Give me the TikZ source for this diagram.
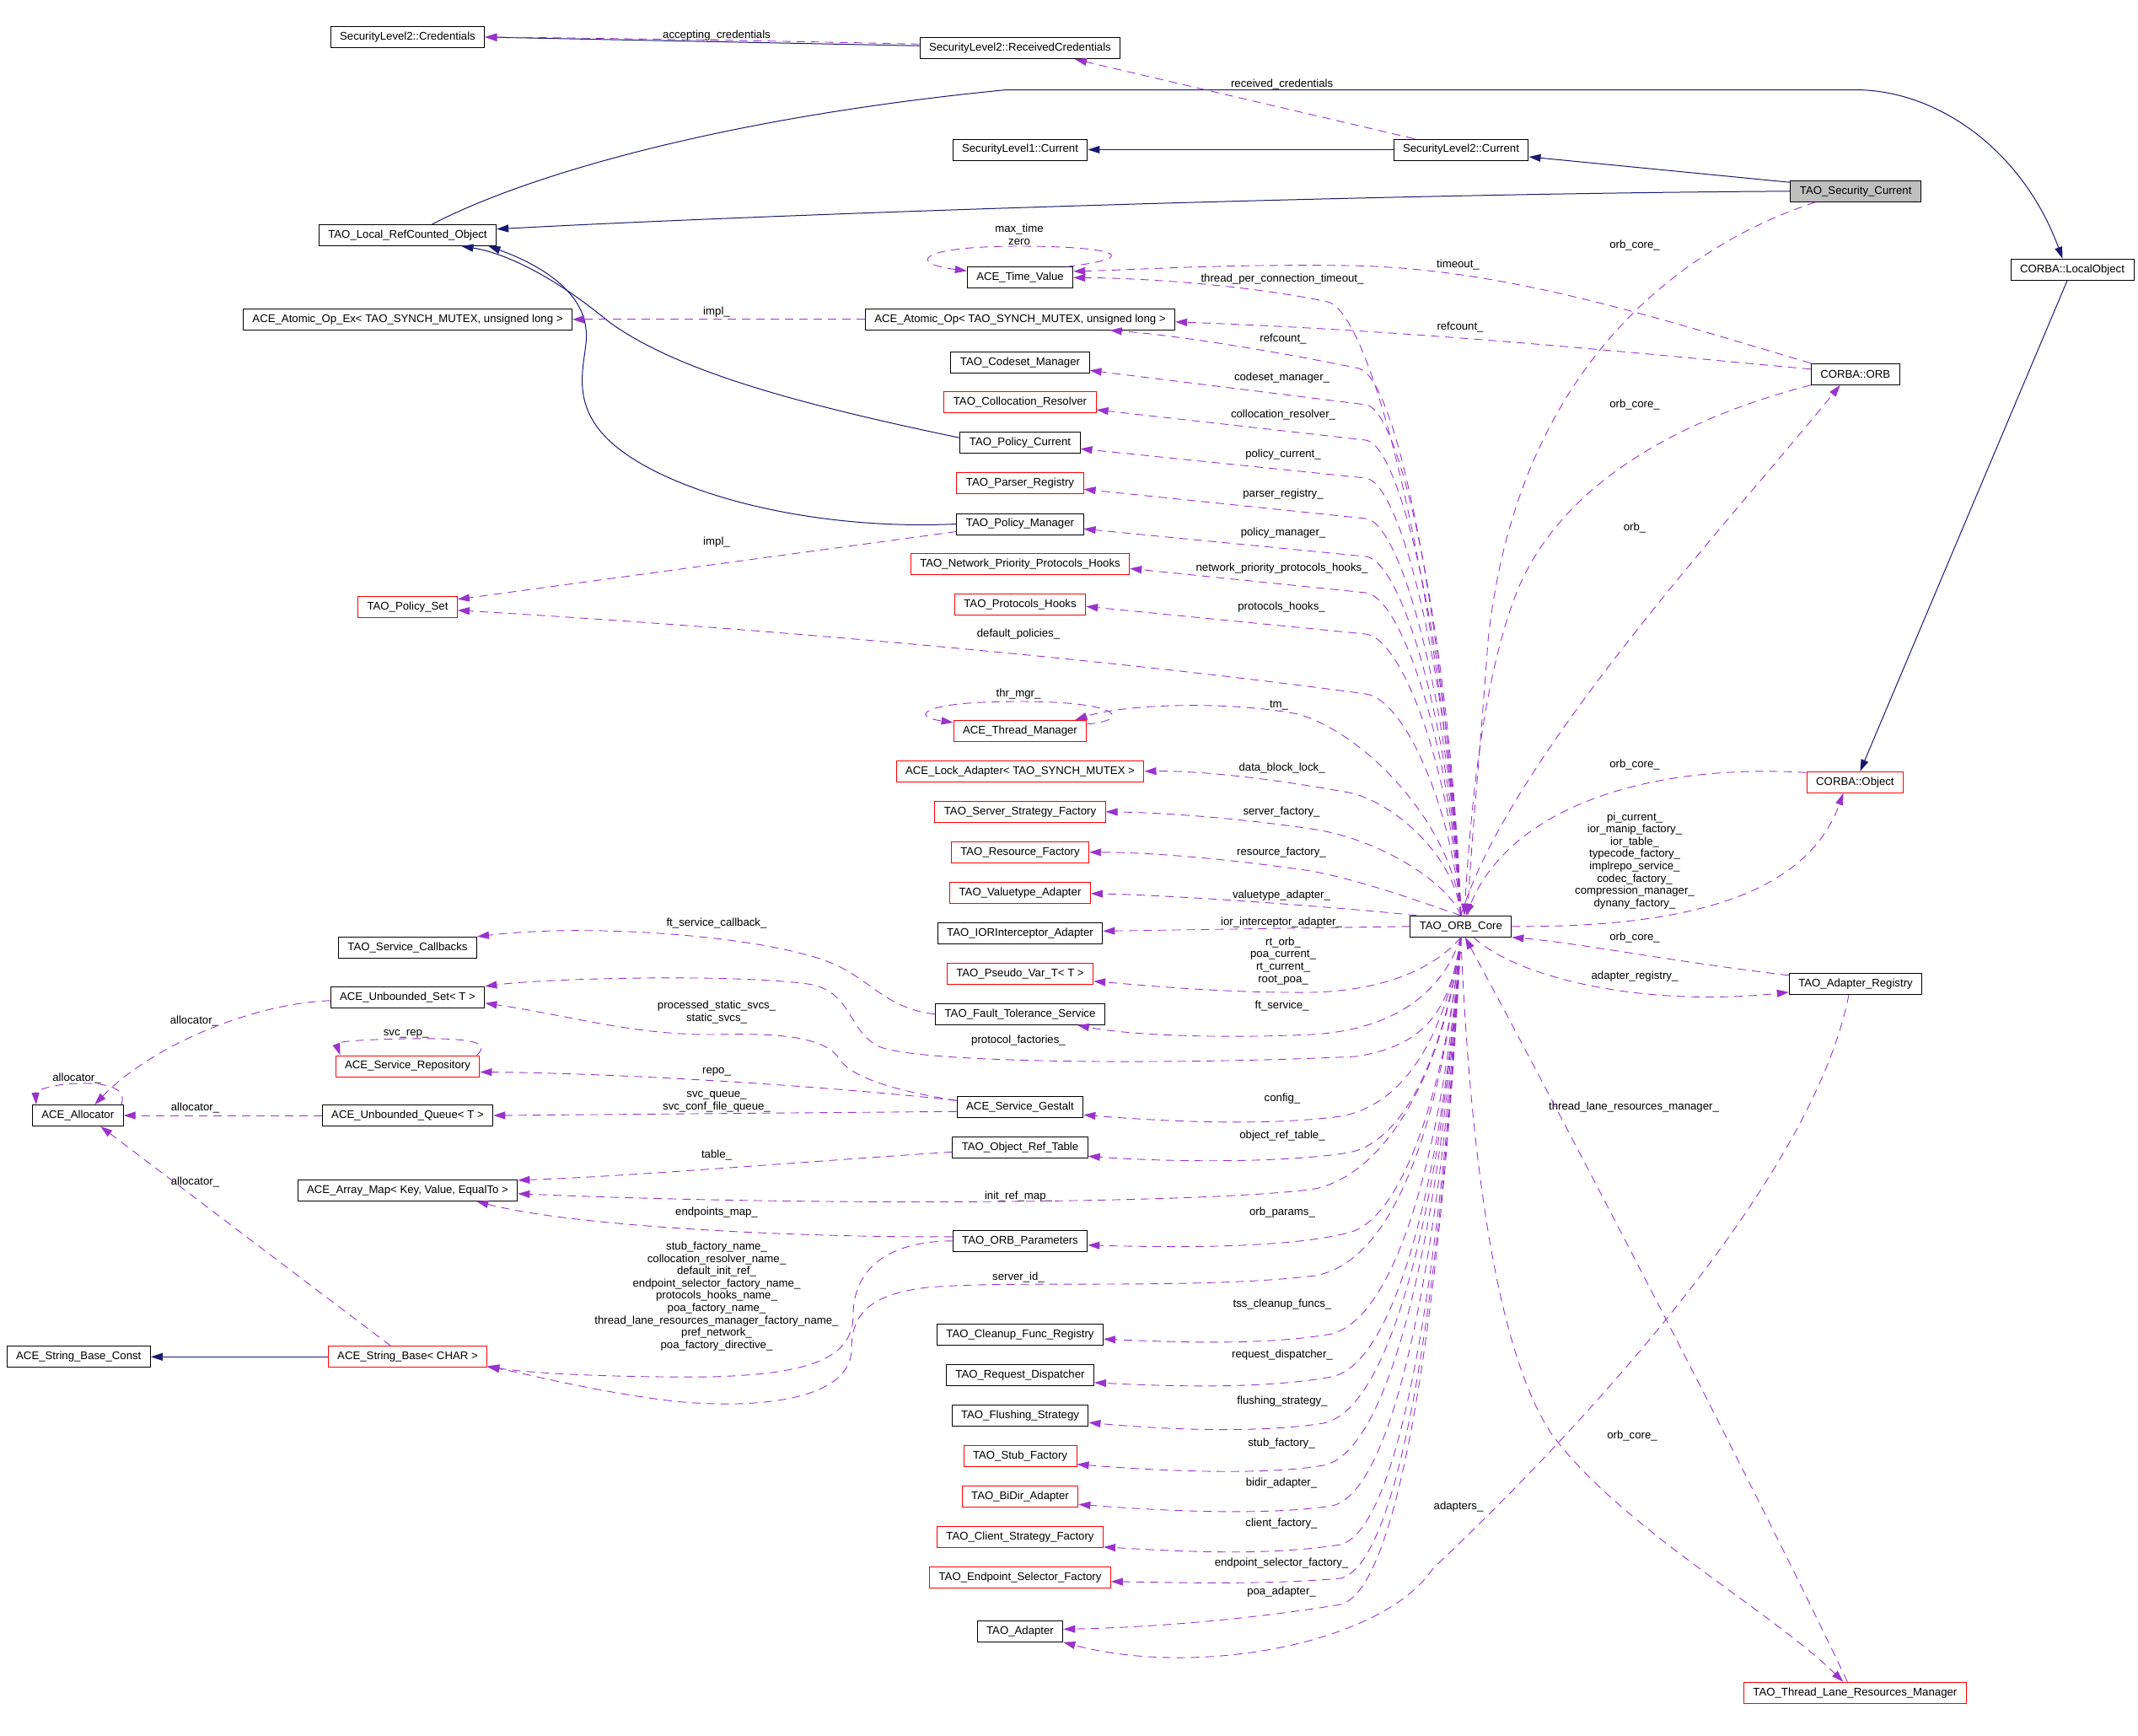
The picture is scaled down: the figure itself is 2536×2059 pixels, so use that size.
\documentclass[tikz,border=0pt]{standalone}
\usepackage{fontspec}
\setmainfont{Liberation Sans}
\usetikzlibrary{arrows.meta, calc}
\definecolor{edgeblue}{RGB}{25,25,112}
\definecolor{edgepurple}{RGB}{154,50,205}
\definecolor{focusgray}{RGB}{191,191,191}
\newcommand{\dxfont}{\fontsize{13.2}{14.6}\selectfont}

\begin{document}
\begin{tikzpicture}[x=1pt, y=-1pt,
    box/.style={rectangle, draw=black, line width=1pt, fill=white, minimum height=25pt, inner xsep=11pt, inner ysep=2pt, font=\dxfont},
    redbox/.style={box, draw=red},
    lab/.style={inner sep=0pt, font=\dxfont, align=center},
    inherit/.style={draw=edgeblue, line width=1pt, -{Triangle[length=14pt, width=9pt]}},
    uses/.style={draw=edgepurple, line width=0.9pt, dash pattern=on 10pt off 7pt, -{Triangle[length=14pt, width=9pt]}}]
    \fill[white] (0,0) rectangle (2536,2059);
    \useasboundingbox (0,0) rectangle (2536,2059);

    % classes
    \node[box] (cred) at (483.5,44) {SecurityLevel2::Credentials};
    \node[box] (recvcred) at (1210,57.3) {SecurityLevel2::ReceivedCredentials};
    \node[box] (sl1cur) at (1210,177.5) {SecurityLevel1::Current};
    \node[box] (sl2cur) at (1733,177.5) {SecurityLevel2::Current};
    \node[box, fill=focusgray] (seccur) at (2201.2,226.8) {TAO\_Security\_Current};
    \node[box] (localrc) at (483.5,279) {TAO\_Local\_RefCounted\_Object};
    \node[box] (localobj) at (2458,319.8) {CORBA::LocalObject};
    \node[box] (timeval) at (1210,329.3) {ACE\_Time\_Value};
    \node[box] (atomicex) at (483.5,378.8) {ACE\_Atomic\_Op\_Ex< TAO\_SYNCH\_MUTEX, unsigned long >};
    \node[box] (atomic) at (1210,378.8) {ACE\_Atomic\_Op< TAO\_SYNCH\_MUTEX, unsigned long >};
    \node[box] (codeset) at (1210,429.8) {TAO\_Codeset\_Manager};
    \node[box] (orb) at (2200.7,443.8) {CORBA::ORB};
    \node[redbox] (colloc) at (1210,477.3) {TAO\_Collocation\_Resolver};
    \node[box] (polcur) at (1210,525.3) {TAO\_Policy\_Current};
    \node[redbox] (parser) at (1210,573.3) {TAO\_Parser\_Registry};
    \node[box] (polmgr) at (1210,621.5) {TAO\_Policy\_Manager};
    \node[redbox] (nethooks) at (1210,669.3) {TAO\_Network\_Priority\_Protocols\_Hooks};
    \node[redbox] (prothooks) at (1210,717.3) {TAO\_Protocols\_Hooks};
    \node[redbox] (polset) at (483.5,719.8) {TAO\_Policy\_Set};
    \node[redbox] (thrmgr) at (1210,866.8) {ACE\_Thread\_Manager};
    \node[redbox] (lockad) at (1210,914.8) {ACE\_Lock\_Adapter< TAO\_SYNCH\_MUTEX >};
    \node[redbox] (corbaobj) at (2200.4,927.8) {CORBA::Object};
    \node[redbox] (serverfac) at (1210,962.8) {TAO\_Server\_Strategy\_Factory};
    \node[redbox] (resfac) at (1210,1010.8) {TAO\_Resource\_Factory};
    \node[redbox] (valadapt) at (1210,1058.8) {TAO\_Valuetype\_Adapter};
    \node[box] (core) at (1732.8,1098.8) {TAO\_ORB\_Core};
    \node[box] (iorint) at (1210,1106.8) {TAO\_IORInterceptor\_Adapter};
    \node[box] (svccb) at (483.5,1123.8) {TAO\_Service\_Callbacks};
    \node[redbox] (pseudo) at (1210,1154.8) {TAO\_Pseudo\_Var\_T< T >};
    \node[box] (adreg) at (2201,1166.8) {TAO\_Adapter\_Registry};
    \node[box] (uset) at (483.5,1182.8) {ACE\_Unbounded\_Set< T >};
    \node[box] (ftserv) at (1210,1202.8) {TAO\_Fault\_Tolerance\_Service};
    \node[redbox] (svcrepo) at (483.5,1264.5) {ACE\_Service\_Repository};
    \node[box] (gestalt) at (1210,1313.3) {ACE\_Service\_Gestalt};
    \node[box] (alloc) at (92.3,1323) {ACE\_Allocator};
    \node[box] (uqueue) at (483.5,1323) {ACE\_Unbounded\_Queue< T >};
    \node[box] (objref) at (1210,1361.3) {TAO\_Object\_Ref\_Table};
    \node[box] (arraymap) at (483.5,1411.8) {ACE\_Array\_Map< Key, Value, EqualTo >};
    \node[box] (orbparams) at (1210,1471.8) {TAO\_ORB\_Parameters};
    \node[box] (cleanup) at (1210,1582.8) {TAO\_Cleanup\_Func\_Registry};
    \node[box] (strconst) at (93.3,1609.3) {ACE\_String\_Base\_Const};
    \node[redbox] (strbase) at (483.5,1609.3) {ACE\_String\_Base< CHAR >};
    \node[box] (reqdisp) at (1210,1630.8) {TAO\_Request\_Dispatcher};
    \node[box] (flush) at (1210,1678.8) {TAO\_Flushing\_Strategy};
    \node[redbox] (stubfac) at (1210,1726.7) {TAO\_Stub\_Factory};
    \node[redbox] (bidir) at (1210,1774.7) {TAO\_BiDir\_Adapter};
    \node[redbox] (clientfac) at (1210,1822.8) {TAO\_Client\_Strategy\_Factory};
    \node[redbox] (epselect) at (1210,1870.8) {TAO\_Endpoint\_Selector\_Factory};
    \node[box] (adapter) at (1210,1934.8) {TAO\_Adapter};
    \node[redbox] (tlrm) at (2200.4,2007.7) {TAO\_Thread\_Lane\_Resources\_Manager};

    % member labels
    \node[lab] (lacc) at (850,41.7) {accepting\_credentials};
    \node[lab] (lrecv) at (1520.6,99.7) {received\_credentials};
    \node[lab] (ltime) at (1209,278) {max\_time\\zero};
    \node[lab] (ltimeout) at (1729.5,314.3) {timeout\_};
    \node[lab] (lsecore) at (1939,291) {orb\_core\_};
    \node[lab] (ltpct) at (1521,331) {thread\_per\_connection\_timeout\_};
    \node[lab] (limpl) at (850,370) {impl\_};
    \node[lab] (lrefcore) at (1522,401.7) {refcount\_};
    \node[lab] (lreforb) at (1732,387.7) {refcount\_};
    \node[lab] (lcodeset) at (1520.5,447.7) {codeset\_manager\_};
    \node[lab] (lorbcore) at (1939,480) {orb\_core\_};
    \node[lab] (lcolloc) at (1522,491.7) {collocation\_resolver\_};
    \node[lab] (lpolcur) at (1522,539) {policy\_current\_};
    \node[lab] (lparser) at (1522,585.7) {parser\_registry\_};
    \node[lab] (lorb) at (1939,625.7) {orb\_};
    \node[lab] (lpolmgr) at (1522,631.7) {policy\_manager\_};
    \node[lab] (lpolimpl) at (850,643.3) {impl\_};
    \node[lab] (lnethooks) at (1520.6,674) {network\_priority\_protocols\_hooks\_};
    \node[lab] (lprothooks) at (1520,720) {protocols\_hooks\_};
    \node[lab] (ldefpol) at (1208,751.7) {default\_policies\_};
    \node[lab] (lthrmgr) at (1208,823.3) {thr\_mgr\_};
    \node[lab] (ltm) at (1517,837) {tm\_};
    \node[lab] (lobjcore) at (1939,906.7) {orb\_core\_};
    \node[lab] (llock) at (1520.6,910.7) {data\_block\_lock\_};
    \node[lab] (lserver) at (1520,963) {server\_factory\_};
    \node[lab] (lobj) at (1939,1020.8) {pi\_current\_\\ior\_manip\_factory\_\\ior\_table\_\\typecode\_factory\_\\implrepo\_service\_\\codec\_factory\_\\compression\_manager\_\\dynany\_factory\_};
    \node[lab] (lresfac) at (1520,1010.7) {resource\_factory\_};
    \node[lab] (lvaladapt) at (1520,1061.7) {valuetype\_adapter\_};
    \node[lab] (lior) at (1520,1094) {ior\_interceptor\_adapter\_};
    \node[lab] (lftcb) at (850,1094.7) {ft\_service\_callback\_};
    \node[lab] (ladcore) at (1939,1111.7) {orb\_core\_};
    \node[lab] (lpseudo) at (1522,1139.7) {rt\_orb\_\\poa\_current\_\\rt\_current\_\\root\_poa\_};
    \node[lab] (ladreg) at (1939,1157.7) {adapter\_registry\_};
    \node[lab] (lft) at (1520.6,1193.3) {ft\_service\_};
    \node[lab] (lstatic) at (850,1200.7) {processed\_static\_svcs\_\\static\_svcs\_};
    \node[lab] (lallocset) at (230.4,1211) {allocator\_};
    \node[lab] (lsvcrep) at (481.6,1226) {svc\_rep\_};
    \node[lab] (lprotfac) at (1208,1233.7) {protocol\_factories\_};
    \node[lab] (lrepo) at (850,1271.7) {repo\_};
    \node[lab] (lallocself) at (91,1279) {allocator\_};
    \node[lab] (lqueue) at (850,1306.7) {svc\_queue\_\\svc\_conf\_file\_queue\_};
    \node[lab] (lconfig) at (1521,1302.7) {config\_};
    \node[lab] (ltlrm) at (1938,1313.3) {thread\_lane\_resources\_manager\_};
    \node[lab] (lallocq) at (231.5,1314.3) {allocator\_};
    \node[lab] (lobjref) at (1521,1346.7) {object\_ref\_table\_};
    \node[lab] (ltable) at (850,1370) {table\_};
    \node[lab] (lallocstr) at (231.5,1401.7) {allocator\_};
    \node[lab] (linitref) at (1208,1419.3) {init\_ref\_map\_};
    \node[lab] (lendpoints) at (850,1438.3) {endpoints\_map\_};
    \node[lab] (lorbparams) at (1521,1438.3) {orb\_params\_};
    \node[lab] (lnames) at (850,1537.5) {stub\_factory\_name\_\\collocation\_resolver\_name\_\\default\_init\_ref\_\\endpoint\_selector\_factory\_name\_\\protocols\_hooks\_name\_\\poa\_factory\_name\_\\thread\_lane\_resources\_manager\_factory\_name\_\\pref\_network\_\\poa\_factory\_directive\_};
    \node[lab] (lserverid) at (1208,1515) {server\_id\_};
    \node[lab] (ltss) at (1521,1547.3) {tss\_cleanup\_funcs\_};
    \node[lab] (lreqdisp) at (1521,1606.7) {request\_dispatcher\_};
    \node[lab] (lflush) at (1521,1661.7) {flushing\_strategy\_};
    \node[lab] (ltlrmcore) at (1936,1702.7) {orb\_core\_};
    \node[lab] (lstub) at (1520,1711.7) {stub\_factory\_};
    \node[lab] (lbidir) at (1520,1759.3) {bidir\_adapter\_};
    \node[lab] (ladapters) at (1730,1787.3) {adapters\_};
    \node[lab] (lclient) at (1520,1807) {client\_factory\_};
    \node[lab] (lepsel) at (1520,1854) {endpoint\_selector\_factory\_};
    \node[lab] (lpoa) at (1520,1888.3) {poa\_adapter\_};

    % inheritance
    \draw[inherit] ($(recvcred.west)+(0,-3)$) -- (cred.east);
    \draw[inherit] (sl2cur.west) -- (sl1cur.east);
    \draw[inherit] ($(seccur.north west)+(0,2.5)$) -- ($(sl2cur.east)+(0,8.5)$);
    \draw[inherit] (seccur.west) .. controls (1600,230) and (900,255) .. ($(localrc.east)+(0,-7.3)$);
    \draw[inherit] ($(localrc.north)+(29,0)$) .. controls (620,210) and (850,140) .. (1194,106.5) -- (2200,106.5) .. controls (2300,106.5) and (2400,180) .. ($(localobj.north)+(-11.5,0)$);
    \draw[inherit] ($(localobj.south)+(-6,0)$) -- ($(corbaobj.north)+(6,0)$);
    \draw[inherit] ($(polcur.west)+(0,-6)$) .. controls (950,480) and (800,440) .. (720,380) .. controls (660,330) and (600,300) .. ($(localrc.south)+(64,0)$);
    \draw[inherit] (polmgr.west) .. controls (950,630) and (780,580) .. (720,520) .. controls (670,470) and (700,420) .. (695,390) .. controls (690,340) and (630,310) .. ($(localrc.south)+(96,0)$);
    \draw[inherit] (strbase.west) -- (strconst.east);

    % members, upper part
    \draw[uses] ($(recvcred.west)+(0,-5)$) .. controls (900,48) and (700,45) .. (cred.east);
    \draw[uses] ($(sl2cur.north west)+(25,0)$) -- ($(recvcred.south)+(65,0)$);
    \draw[uses] ($(timeval.north east)+(-8,0)$) .. controls (1360,305) and (1320,292) .. (1209,292) .. controls (1090,292) and (1075,312) .. ($(timeval.west)+(0,-8)$);
    \draw[uses] (orb.north west) .. controls (1950,372) and (1780,318) .. (1600,315) .. controls (1450,313) and (1350,320) .. ($(timeval.east)+(0,-7.5)$);
    \draw[uses] ($(orb.west)+(0,-6)$) .. controls (1950,420) and (1700,393) .. ($(atomic.east)+(0,3)$);
    \draw[uses] (atomic.west) -- (atomicex.east);
    \draw[uses] ($(polmgr.west)+(0,9)$) -- ($(polset.east)+(0,-9)$);
    \draw[uses] (core.north) .. controls (1712,720) and (1630,372) .. (1575,358) .. controls (1500,342) and (1380,330) .. (timeval.east);
    \draw[uses] (core.north) .. controls (1716,760) and (1660,450) .. (1612,437) .. controls (1520,418) and (1400,398) .. ($(atomic.south)+(106.6,0)$);
    \draw[uses] (core.north) .. controls (1722,783) and (1665,486) .. (1620,480) -- ($(codeset.east)+(0,9.5)$);
    \draw[uses] (core.north) .. controls (1722,804) and (1665,528) .. (1620,522) -- ($(colloc.east)+(0,8.7)$);
    \draw[uses] (core.north) .. controls (1722,827) and (1665,573) .. (1620,567) -- ($(polcur.east)+(0,7)$);
    \draw[uses] (core.north) .. controls (1722,851) and (1665,621) .. (1620,615) -- ($(parser.east)+(0,7)$);
    \draw[uses] (core.north) .. controls (1722,873) and (1665,666) .. (1620,660) -- ($(polmgr.east)+(0,5.8)$);
    \draw[uses] (core.north) .. controls (1722,895) and (1665,709) .. (1620,703) -- ($(nethooks.east)+(0,5)$);
    \draw[uses] (core.north) .. controls (1722,919) and (1665,758) .. (1620,752) -- ($(prothooks.east)+(0,2)$);
    \draw[uses] (core.north) .. controls (1722,955) and (1665,829) .. (1620,823) .. controls (1300,780) and (900,745) .. ($(polset.east)+(0,4)$);
    \draw[uses] ($(thrmgr.east)+(0,-8)$) .. controls (1340,855) and (1335,832) .. (1209,832) .. controls (1090,832) and (1080,850) .. ($(thrmgr.west)+(0,-10)$);
    \draw[uses] (core.north) .. controls (1725,980) and (1620,870) .. (1540,847) .. controls (1450,830) and (1330,836) .. ($(thrmgr.north east)+(-14,0)$);
    \draw[uses] (core.north) .. controls (1726,1013) and (1650,950) .. (1600,940) .. controls (1500,922) and (1420,914) .. (lockad.east);
    \draw[uses] (core.north) .. controls (1720,1050) and (1640,995) .. (1555,983) .. controls (1480,972) and (1390,964) .. (serverfac.east);
    \draw[uses] (core.north) .. controls (1700,1075) and (1620,1045) .. (1555,1033) .. controls (1480,1022) and (1380,1011) .. (resfac.east);
    \draw[uses] ($(core.north west)+(8,0)$) .. controls (1600,1077) and (1400,1062) .. ($(valadapt.east)+(0,1)$);
    \draw[uses] (core.west) -- ($(iorint.east)+(0,-2.5)$);

    % members, right part
    \draw[uses] ($(seccur.south west)+(30,0)$) .. controls (2000,290) and (1800,430) .. (1765,760) .. controls (1755,900) and (1745,1000) .. ($(core.north)+(8,0)$);
    \draw[uses] (orb.south west) .. controls (1980,500) and (1850,580) .. (1800,700) .. controls (1760,800) and (1745,950) .. ($(core.north)+(4,0)$);
    \draw[uses] (core.north) .. controls (1790,900) and (2050,620) .. ($(orb.south)+(-18,0)$);
    \draw[uses] ($(corbaobj.north west)+(0,1.5)$) .. controls (1950,905) and (1790,960) .. ($(core.north)+(6,0)$);
    \draw[uses] (core.east) .. controls (1980,1100) and (2140,1070) .. ($(corbaobj.south)+(-14,0)$);
    \draw[uses] ($(adreg.north west)+(0,3)$) .. controls (1980,1140) and (1870,1118) .. (core.south east);
    \draw[uses] ($(core.south)+(15,0)$) .. controls (1800,1160) and (1950,1195) .. ($(adreg.south west)+(0,-3)$);
    \draw[uses] (core.south) .. controls (1745,1400) and (1780,1610) .. (1840,1700) .. controls (1920,1810) and (2100,1910) .. ($(tlrm.north)+(-14,0)$);
    \draw[uses] ($(tlrm.north)+(-9,0)$) .. controls (2080,1760) and (1840,1300) .. ($(core.south)+(5,0)$);
    \draw[uses] ($(adreg.south)+(-8,0)$) .. controls (2150,1400) and (1870,1700) .. (1700,1860) .. controls (1640,1950) and (1420,1990) .. (adapter.south east);

    % members, lower part
    \draw[uses] (core.south) .. controls (1700,1150) and (1640,1175) .. (1555,1177) .. controls (1450,1178) and (1350,1168) .. ($(pseudo.east)+(0,9)$);
    \draw[uses] (core.south) .. controls (1710,1180) and (1650,1222) .. (1555,1227) .. controls (1450,1232) and (1340,1228) .. ($(ftserv.south east)+(-33,0)$);
    \draw[uses] (ftserv.west) .. controls (1040,1195) and (1030,1150) .. (958,1133) .. controls (880,1110) and (700,1095) .. (svccb.north east);
    \draw[uses] (core.south) .. controls (1720,1200) and (1690,1240) .. (1609,1253) .. controls (1400,1263) and (1080,1262) .. (1040,1240) .. controls (1005,1220) and (1010,1175) .. (958,1167) .. controls (870,1155) and (650,1160) .. (uset.north east);
    \draw[uses] ($(gestalt.west)+(0,-8)$) .. controls (1070,1295) and (1010,1280) .. (995,1255) .. controls (975,1225) and (900,1226) .. (850,1227) .. controls (750,1228) and (680,1205) .. ($(uset.east)+(0,7)$);
    \draw[uses] ($(gestalt.west)+(0,-8)$) .. controls (1000,1290) and (750,1273) .. ($(svcrepo.east)+(0,7)$);
    \draw[uses] ($(gestalt.west)+(0,5)$) -- (uqueue.east);
    \draw[uses] ($(svcrepo.north east)+(-4,0)$) .. controls (585,1234) and (550,1231) .. (482,1232) .. controls (420,1233) and (398,1236) .. ($(svcrepo.north west)+(6,0)$);
    \draw[uses] ($(uset.west)+(0,4)$) .. controls (300,1190) and (180,1240) .. ($(alloc.north)+(20,0)$);
    \draw[uses] ($(alloc.north east)+(-3,0)$) .. controls (152,1290) and (125,1284) .. (92,1285) .. controls (60,1286) and (42,1294) .. ($(alloc.north west)+(5,0)$);
    \draw[uses] (uqueue.west) -- (alloc.east);
    \draw[uses] ($(strbase.north)+(-20,0)$) -- ($(alloc.south)+(27,0)$);
    \draw[uses] (core.south) .. controls (1716,1220) and (1670,1310) .. (1590,1324) .. controls (1500,1336) and (1380,1330) .. ($(gestalt.east)+(0,9)$);
    \draw[uses] (core.south) .. controls (1715,1239) and (1670,1353) .. (1600,1367) .. controls (1520,1380) and (1380,1378) .. ($(objref.east)+(0,10)$);
    \draw[uses] ($(objref.west)+(0,5)$) .. controls (950,1378) and (750,1395) .. ($(arraymap.east)+(0,-12)$);
    \draw[uses] (core.south) .. controls (1715,1260) and (1650,1390) .. (1560,1410) .. controls (1450,1426) and (1000,1432) .. ($(arraymap.east)+(0,4)$);
    \draw[uses] ($(orbparams.west)+(0,-5)$) .. controls (950,1468) and (680,1455) .. ($(arraymap.south)+(81.7,0)$);
    \draw[uses] (core.south) .. controls (1715,1287) and (1665,1445) .. (1600,1462) .. controls (1530,1480) and (1400,1480) .. ($(orbparams.east)+(0,5)$);
    \draw[uses] (orbparams.west) .. controls (1060,1472) and (1012,1500) .. (1012,1560) .. controls (1012,1615) and (950,1630) .. (842,1633) .. controls (720,1634) and (620,1628) .. ($(strbase.south east)+(0,-2)$);
    \draw[uses] (core.south) .. controls (1712,1312) and (1660,1495) .. (1560,1513) .. controls (1420,1530) and (1200,1518) .. (1100,1527) .. controls (1030,1535) and (1010,1560) .. (1010,1600) .. controls (1010,1660) and (900,1672) .. (800,1662) .. controls (700,1650) and (620,1628) .. ($(strbase.south east)+(0,-1)$);
    \draw[uses] (core.south) .. controls (1714,1347) and (1660,1560) .. (1580,1582) .. controls (1500,1596) and (1400,1592) .. ($(cleanup.east)+(0,5.5)$);
    \draw[uses] (core.south) .. controls (1714,1372) and (1660,1615) .. (1580,1633) .. controls (1500,1647) and (1400,1645) .. ($(reqdisp.east)+(0,9)$);
    \draw[uses] (core.south) .. controls (1713,1400) and (1655,1670) .. (1570,1688) .. controls (1500,1699) and (1400,1697) .. ($(flush.east)+(0,8.5)$);
    \draw[uses] (core.south) .. controls (1713,1425) and (1655,1720) .. (1570,1738) .. controls (1500,1750) and (1380,1745) .. ($(stubfac.east)+(0,10)$);
    \draw[uses] (core.south) .. controls (1713,1449) and (1660,1768) .. (1580,1786) .. controls (1500,1798) and (1380,1792) .. ($(bidir.east)+(0,9.6)$);
    \draw[uses] (core.south) .. controls (1713,1472) and (1665,1812) .. (1590,1832) .. controls (1500,1846) and (1400,1840) .. ($(clientfac.east)+(0,12)$);
    \draw[uses] (core.south) .. controls (1713,1492) and (1665,1855) .. (1590,1872) .. controls (1500,1880) and (1400,1877) .. ($(epselect.east)+(0,5)$);
    \draw[uses] (core.south) .. controls (1713,1507) and (1665,1885) .. (1590,1903) .. controls (1500,1918) and (1380,1930) .. ($(adapter.east)+(0,-2.5)$);
\end{tikzpicture}
\end{document}
